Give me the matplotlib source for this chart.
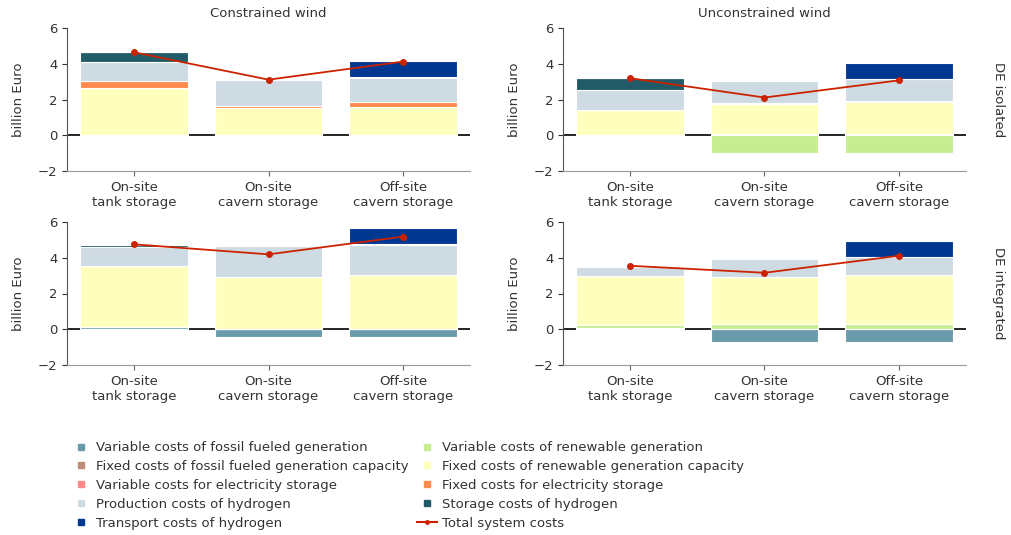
import numpy as np
import matplotlib.pyplot as plt
from matplotlib.lines import Line2D

# bar categories
categories = ["On-site\ntank storage", "On-site\ncavern storage", "Off-site\ncavern storage"]
col_titles = ["Constrained wind", "Unconstrained wind"]
row_titles = ["DE isolated", "DE integrated"]

# values per panel: [isolated/constrained, isolated/unconstrained, integrated/constrained, integrated/unconstrained]
var_fossil = [[0, 0, 0], [0, 0, 0], [0.1, -0.43, -0.43], [0.05, -0.71, -0.71]]
fixed_fossil = [[0, 0, 0], [0, 0.05, 0.05], [0, 0, 0], [0, 0, 0]]
var_renew = [[0, 0, 0], [0, -0.97, -0.97], [0, 0, 0], [0.17, 0.3, 0.3]]
fixed_renew = [[2.63, 1.5, 1.58], [1.43, 1.72, 1.81], [3.42, 2.9, 3.02], [2.77, 2.65, 2.71]]
var_elec_sto = [[0, 0, 0], [0, 0.04, 0.05], [0, 0, 0], [0, 0, 0]]
fixed_elec_sto = [[0.38, 0.15, 0.26], [0, 0, 0], [0, 0, 0], [0, 0, 0]]
production_h2 = [[1.06, 1.43, 1.35], [1.10, 1.21, 1.24], [1.1, 1.74, 1.68], [0.47, 0.99, 1.01]]
storage_h2 = [[0.58, 0, 0.05], [0.66, 0, 0], [0.12, 0, 0.05], [0.05, 0, 0]]
transport_h2 = [[0, 0, 0.91], [0, 0, 0.89], [0, 0, 0.91], [0, 0, 0.9]]
total = [[4.64, 3.11, 4.12], [3.19, 2.11, 3.07], [4.75, 4.19, 5.18], [3.55, 3.16, 4.11]]

components = [
    ("Variable costs of fossil fueled generation", var_fossil, "#6a9bab"),
    ("Fixed costs of fossil fueled generation capacity", fixed_fossil, "#bf8c78"),
    ("Variable costs of renewable generation", var_renew, "#c6ee91"),
    ("Fixed costs of renewable generation capacity", fixed_renew, "#ffffbd"),
    ("Variable costs for electricity storage", var_elec_sto, "#ff8a8a"),
    ("Fixed costs for electricity storage", fixed_elec_sto, "#ff8a4d"),
    ("Production costs of hydrogen", production_h2, "#cfdbe3"),
    ("Storage costs of hydrogen", storage_h2, "#225b68"),
    ("Transport costs of hydrogen", transport_h2, "#003891"),
]
total_color = "#cc2200"

plt.rcParams['font.family'] = ['DejaVu Sans']
plt.rcParams['font.size'] = 9

fig = plt.figure(figsize=(10.11, 5.35), dpi=100)
W, H = 1011, 535
lefts = [67, 563]
tops = [28, 222]
aw, ah = 403, 143

x = np.arange(3)
for p in range(4):
    r, c = p // 2, p % 2
    ax = fig.add_axes([lefts[c] / W, 1 - (tops[r] + ah) / H, aw / W, ah / H])
    pos = np.zeros(3)
    neg = np.zeros(3)
    for name, data, color in components:
        vals = np.array(data[p], dtype=float)
        bottoms = np.where(vals >= 0, pos, neg)
        ax.bar(x, vals, 0.8, bottom=bottoms, color=color, edgecolor="white", linewidth=0.8, zorder=2)
        pos += np.where(vals >= 0, vals, 0)
        neg += np.where(vals < 0, vals, 0)
    ax.axhline(0, color="black", linewidth=1.2, zorder=1)
    ax.plot(x, total[p], color=total_color, marker="o", markersize=4, linewidth=1.3, zorder=3)
    ax.set_xlim(-0.5, 2.5)
    ax.set_ylim(-2, 6)
    ax.set_yticks([-2, 0, 2, 4, 6])
    ax.set_xticks(x)
    ax.set_xticklabels(categories, color="#333333", fontsize=9.5)
    ax.tick_params(axis="y", labelsize=9.5, labelcolor="#333333", color="#333333")
    ax.tick_params(axis="x", color="#666666")
    ax.spines["top"].set_visible(False)
    ax.spines["right"].set_visible(False)
    ax.spines["left"].set_color("#555555")
    ax.spines["bottom"].set_color("#999999")
    ax.set_ylabel("billion Euro", color="#333333", fontsize=9.5)
    ax.yaxis.set_label_coords(-0.105, 0.5)
    if r == 0:
        ax.set_title(col_titles[c], fontsize=9.5, color="#333333", pad=8)
    if c == 1:
        ax.text(1.08, 0.5, row_titles[r], rotation=270, transform=ax.transAxes,
                ha="center", va="center", fontsize=9.5, color="#333333")

handles = []
labels = []
order = [0, 1, 4, 6, 8, 2, 3, 5, 7]
for i in order:
    name, data, color = components[i]
    handles.append(Line2D([], [], linestyle="none", marker="s", markersize=4.5, color=color))
    labels.append(name)
handles.append(Line2D([], [], color=total_color, marker="o", markersize=2.5, linewidth=1.5))
labels.append("Total system costs")

fig.legend(handles, labels, ncol=2, loc="upper left", bbox_to_anchor=(66 / W, 1 - 436 / H),
           frameon=False, fontsize=9.5, handlelength=1.5, handletextpad=0.4,
           labelspacing=0.44, columnspacing=0.6, labelcolor="#333333", borderaxespad=0)

fig.savefig("out.png", dpi=100)
